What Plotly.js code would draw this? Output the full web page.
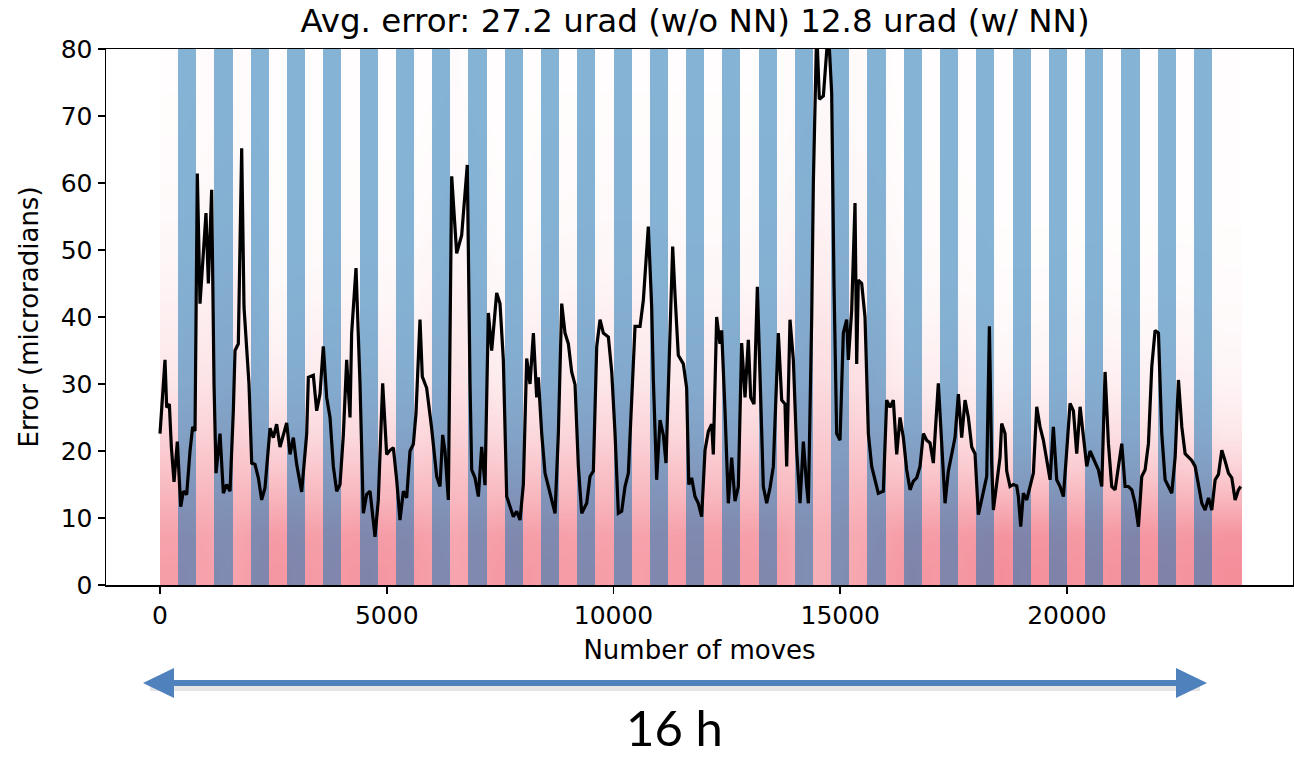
<!DOCTYPE html>
<html>
<head>
<meta charset="utf-8">
<script src="https://cdn.plot.ly/plotly-3.0.1.min.js"></script>
<style>
  html, body { margin: 0; padding: 0; background: #ffffff; }
  #chart { width: 1294px; height: 757px; }
</style>
</head>
<body>
<div id="chart"></div>
<script>
// ---------------- DATA ----------------
// Moving-average error (black line): number of moves / error (microradians)
const moves = [0,110,147,206,250,309,382,456,515,588,662,720,772,823,882,1014,1066,1139,1191,1235,
  1323,1397,1470,1544,1617,1654,1727,1801,1852,1911,1962,2022,2095,2168,2242,2315,2389,2426,2499,2572,
  2646,2719,2793,2867,2940,3014,3124,3234,3271,3381,3455,3528,3601,3675,3749,3822,3896,3969,4043,4116,
  4190,4226,4322,4410,4483,4557,4631,4741,4814,4910,4998,5072,5145,5219,5292,5366,5439,5513,5586,5645,
  5733,5784,5880,5990,6101,6174,6233,6284,6358,6432,6542,6652,6776,6836,6873,6946,7020,7093,7167,7240,
  7314,7424,7497,7571,7645,7718,7792,7865,7939,8012,8086,8159,8233,8306,8343,8417,8490,8564,8637,8711,
  8784,8858,8931,9005,9078,9152,9225,9299,9409,9482,9556,9630,9703,9777,9887,9961,10034,10107,10181,10254,
  10328,10401,10475,10585,10658,10768,10842,10879,10952,11026,11099,11158,11305,11356,11429,11540,11613,11660,11723,11797,
  11870,11944,12018,12091,12165,12201,12275,12348,12385,12459,12532,12606,12679,12753,12826,12900,12973,13025,13098,13172,
  13230,13304,13378,13451,13525,13635,13709,13782,13819,13892,13966,14040,14113,14187,14260,14297,14371,14407,14481,14539,
  14628,14738,14811,14862,14921,14995,15068,15142,15179,15252,15326,15363,15399,15473,15546,15620,15693,15767,15840,15950,
  16024,16098,16171,16245,16318,16392,16465,16539,16612,16686,16759,16833,16906,16980,17053,17163,17237,17311,17384,17458,
  17531,17605,17678,17752,17825,17899,17972,18046,18120,18193,18230,18289,18340,18377,18450,18524,18560,18634,18671,18744,
  18818,18891,18928,18980,19038,19112,19185,19259,19333,19406,19480,19553,19627,19700,19774,19847,19921,19995,20068,20142,
  20215,20289,20362,20436,20509,20620,20693,20767,20840,20914,20987,21061,21134,21208,21281,21355,21429,21502,21576,21649,
  21723,21796,21870,21943,22017,22090,22164,22237,22311,22385,22458,22532,22605,22679,22752,22826,22899,22973,23046,23120,
  23193,23267,23340,23414,23487,23561,23634,23708,23781,23833];
const avgError = [22.6,33.6,26.5,27,20.6,15.4,21.4,11.7,14,13.5,20,23.6,23,61.4,42,55.5,45,59,30,16.7,
  22.6,13.7,15,14,26,35,36,65.2,41.5,35,30,18.2,18,16,12.7,14.5,20.6,23.4,22,24,
  20.6,22.4,24.2,19.5,22,18,13.9,22.5,31,31.3,26,28.5,35.6,28,25,17.7,14,15,22.4,33.6,
  25,37.6,47.3,30,10.7,13.5,14,7.2,12.7,30.1,19.5,20.1,20.5,15.7,9.7,14,13,20,21,25.6,
  39.6,31.1,29.4,23.4,16.2,14.7,22.4,20,12.7,61,49.5,52.2,62.7,30,17.2,16,13.2,20.6,14.9,40.6,
  35,43.6,42,33.6,13.2,11.7,10.2,11,9.7,15,33.8,30,37.6,28,31,22.6,16.7,14.7,12.7,10.7,
  22.6,42,37.6,36,31.8,29.9,17.7,10.7,12.2,16.2,17,35.6,39.6,37.6,37,31.8,22.6,10.7,11,14.7,
  16.7,28.1,38.6,38.6,42.5,53.5,41.5,30.6,15.7,24.6,22.4,18.2,50.5,43.4,34.3,33,29.4,15,16,13.2,
  12.2,10.2,20.1,22.9,24,19.5,40,36,38,26,12.2,19,12.5,14.7,36.1,28,36.6,28,27,44.5,
  30,14.7,12.2,14.5,17.7,37.6,27.6,27,17.7,39.6,33.6,20,12.2,21.4,14.7,12.2,40,60,83,72.5,
  73,83,73.4,45,22.6,21.6,37.6,39.6,33.6,41,57,33,45.5,45,40,22.6,17.7,15.7,13.7,14,
  27.6,26.5,27.6,19.5,25,22,17.2,14.2,15.5,16,17.7,22.6,21.6,21.2,18.2,30.1,21.6,12.2,17,19.5,
  22,28.5,22,27.6,25,20.6,19.6,10.5,12.7,14.7,16.2,38.6,18,11.2,15.5,19.1,24.1,22.6,17,14.7,
  15,14.8,13.2,8.7,13.7,12.7,14.7,16.7,26.6,23.6,21.6,18.6,15.7,23.6,15.7,14.7,13.2,20.1,27.1,26,
  19.6,26.6,22.6,17.7,20,18.2,17.2,14.7,31.8,21.1,14.7,14.2,17.7,21.1,14.7,14.7,14.2,12.2,8.7,16.2,
  17.2,21.1,32.6,38,37.6,22.6,15.7,14.7,13.7,19.1,30.6,23.6,19.6,19.1,18.6,17.7,14.7,12.2,11.2,13,
  11.2,15.7,16.5,20.1,18.5,16.7,16,12.7,14.2,14.7];

// Shaded (blue) intervals: start / end move of each span
const nnStart = [400,1200,2000,2800,3600,4400,5200,6000,6800,7600,8400,9200,10000,10800,11600,
  12400,13200,14000,14800,15600,16400,17200,18000,18800,19600,20400,21200,22000,22800];
const nnEnd = [800,1600,2400,3200,4000,4800,5600,6400,7200,8000,8800,9600,10400,11200,12000,
  12800,13600,14400,15200,16000,16800,17600,18400,19200,20000,20800,21600,22400,23200];

// Raw per-move errors (red cloud), read as a relative point density per bin
const cloudMovesEdges = [0,1000,2000,3000,4000,5000,6000,7000,8000,9000,10000,11000,12000,
  13000,14000,15000,16000,17000,18000,19000,20000,21000,22000,23000,23850];
const cloudErrorEdges = [0,5,10,15,20,25,30,40,50,60,70,80];
const cloudDensity = [
  [0.78,0.72,0.84,0.80,0.84,0.82,0.72,0.82,0.80,0.78,0.77,0.80,0.80,0.78,0.64,0.72,0.84,0.82,0.90,0.88,0.85,0.88,0.86,0.90],
  [0.74,0.70,0.80,0.77,0.80,0.78,0.70,0.78,0.77,0.75,0.74,0.77,0.77,0.75,0.64,0.70,0.80,0.79,0.86,0.84,0.81,0.84,0.82,0.86],
  [0.62,0.60,0.62,0.60,0.62,0.60,0.58,0.60,0.60,0.60,0.60,0.60,0.60,0.60,0.56,0.60,0.62,0.62,0.62,0.62,0.62,0.62,0.62,0.60],
  [0.48,0.50,0.44,0.45,0.44,0.44,0.48,0.44,0.46,0.48,0.48,0.46,0.46,0.48,0.48,0.50,0.43,0.44,0.38,0.39,0.42,0.40,0.41,0.36],
  [0.35,0.39,0.29,0.31,0.30,0.30,0.37,0.30,0.32,0.34,0.35,0.32,0.32,0.34,0.41,0.39,0.29,0.30,0.22,0.24,0.28,0.25,0.27,0.20],
  [0.25,0.30,0.19,0.22,0.21,0.20,0.28,0.21,0.23,0.25,0.26,0.23,0.23,0.25,0.34,0.30,0.19,0.20,0.13,0.14,0.18,0.16,0.17,0.12],
  [0.16,0.21,0.10,0.13,0.12,0.11,0.19,0.12,0.14,0.15,0.16,0.14,0.14,0.15,0.25,0.21,0.10,0.11,0.06,0.07,0.09,0.08,0.09,0.06],
  [0.09,0.13,0.05,0.06,0.06,0.06,0.11,0.06,0.07,0.08,0.09,0.07,0.07,0.08,0.16,0.12,0.05,0.05,0.03,0.03,0.04,0.03,0.04,0.03],
  [0.05,0.08,0.03,0.03,0.03,0.03,0.07,0.03,0.04,0.05,0.05,0.04,0.04,0.05,0.10,0.08,0.03,0.03,0.02,0.02,0.02,0.02,0.02,0.02],
  [0.03,0.05,0.02,0.02,0.02,0.02,0.04,0.02,0.03,0.03,0.03,0.03,0.03,0.03,0.07,0.05,0.02,0.02,0.01,0.01,0.01,0.01,0.01,0.01],
  [0.02,0.04,0.01,0.01,0.01,0.01,0.03,0.01,0.02,0.02,0.02,0.02,0.02,0.02,0.05,0.04,0.01,0.01,0.01,0.01,0.01,0.01,0.01,0.01]
];

const xTicks = [0, 5000, 10000, 15000, 20000];
const yTicks = [0, 10, 20, 30, 40, 50, 60, 70, 80];
const titleText = 'Avg. error: 27.2 urad (w/o NN) 12.8 urad (w/ NN)';
const durationLabel = '16 h';

// ---------------- LAYOUT GEOMETRY ----------------
const W = 1294, H = 757;
const M = { l: 106, r: 1, t: 49, b: 172 };
const plotW = W - M.l - M.r, plotH = H - M.t - M.b;
const X_RANGE = [-1191, 24984];
const Y_RANGE = [0, 80];
const px2x = px => (px - M.l) / plotW;           // pixel -> paper x
const py2y = py => (H - M.b - py) / plotH;       // pixel -> paper y

const FONT = 'DejaVu Sans, sans-serif';

const traces = [
  {
    type: 'heatmap',
    x: cloudMovesEdges,
    y: cloudErrorEdges,
    z: cloudDensity,
    zmin: 0, zmax: 1,
    zsmooth: 'best',
    colorscale: [[0, 'rgba(236,60,80,0)'], [1, 'rgba(236,60,80,0.64)']],
    showscale: false,
    hoverinfo: 'skip'
  },
  {
    type: 'bar',
    x: nnStart.map((s, i) => (s + nnEnd[i]) / 2),
    y: nnStart.map(() => Y_RANGE[1]),
    width: nnStart.map((s, i) => nnEnd[i] - s),
    base: 0,
    marker: { color: 'rgba(31,119,180,0.55)', line: { width: 0 } },
    hoverinfo: 'skip'
  },
  {
    type: 'scatter',
    mode: 'lines',
    x: moves,
    y: avgError,
    line: { color: '#000000', width: 3.2 },
    hoverinfo: 'skip'
  }
];

// Double-headed arrow below the chart
const arrowY = 683;
const shapes = [
  { type: 'line', xref: 'paper', yref: 'paper',
    x0: px2x(150), x1: px2x(1200), y0: py2y(arrowY + 5), y1: py2y(arrowY + 5),
    line: { color: 'rgba(0,0,0,0.10)', width: 6 } },
  { type: 'line', xref: 'paper', yref: 'paper',
    x0: px2x(165), x1: px2x(1185), y0: py2y(arrowY), y1: py2y(arrowY),
    line: { color: '#4f81bd', width: 6 } },
  { type: 'path', xref: 'paper', yref: 'paper',
    path: `M ${px2x(143)} ${py2y(arrowY)} L ${px2x(174)} ${py2y(arrowY - 15)} L ${px2x(174)} ${py2y(arrowY + 15)} Z`,
    fillcolor: '#4f81bd', line: { width: 0 } },
  { type: 'path', xref: 'paper', yref: 'paper',
    path: `M ${px2x(1207)} ${py2y(arrowY)} L ${px2x(1176)} ${py2y(arrowY - 15)} L ${px2x(1176)} ${py2y(arrowY + 15)} Z`,
    fillcolor: '#4f81bd', line: { width: 0 } }
];

const layout = {
  width: W, height: H,
  margin: M,
  paper_bgcolor: '#ffffff',
  plot_bgcolor: '#ffffff',
  showlegend: false,
  bargap: 0,
  font: { family: FONT, color: '#000000', size: 25 },
  title: {
    text: titleText,
    font: { family: FONT, size: 32.5, color: '#000000' },
    x: px2x(695), xref: 'paper', xanchor: 'center',
    y: 1 - 21 / H, yref: 'container', yanchor: 'middle'
  },
  xaxis: {
    range: X_RANGE,
    tickvals: xTicks,
    ticktext: xTicks.map(String),
    ticks: 'outside', ticklen: 7, tickwidth: 1.5, tickcolor: '#000',
    showline: true, linecolor: '#000', linewidth: 1.5, mirror: true,
    showgrid: false, zeroline: false,
    tickfont: { family: FONT, size: 25, color: '#000' },
    title: { text: 'Number of moves', font: { family: FONT, size: 26, color: '#000' }, standoff: 12 }
  },
  yaxis: {
    range: Y_RANGE,
    tickvals: yTicks,
    ticktext: yTicks.map(String),
    ticks: 'outside', ticklen: 7, tickwidth: 1.5, tickcolor: '#000',
    showline: true, linecolor: '#000', linewidth: 1.5, mirror: true,
    showgrid: false, zeroline: false,
    tickfont: { family: FONT, size: 25, color: '#000' },
    title: { text: 'Error (microradians)', font: { family: FONT, size: 26, color: '#000' }, standoff: 14 }
  },
  shapes: shapes,
  annotations: [
    { text: durationLabel, xref: 'paper', yref: 'paper',
      x: px2x(674), y: py2y(727), xanchor: 'center', yanchor: 'middle',
      showarrow: false, font: { family: 'Lato, sans-serif', size: 49, color: '#000' } }
  ]
};

Plotly.newPlot('chart', traces, layout, { staticPlot: true, displayModeBar: false });
</script>
</body>
</html>
